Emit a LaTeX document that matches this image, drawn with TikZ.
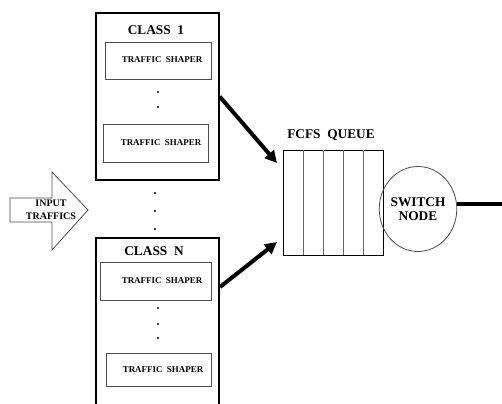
\documentclass[tikz,border=0pt]{standalone}
\usepackage{fontspec}
\setmainfont{Liberation Serif}
\usetikzlibrary{fit,shapes.geometric,arrows.meta}

\tikzset{every picture/.style={line width=0.75pt}}
\tikzset{
  classbox/.style={draw, line width=1pt, inner sep=0pt},
  shaperbox/.style={draw=black!70, line width=0.6pt, inner sep=0pt},
  title/.style={font=\fontsize{10}{10}\selectfont\bfseries, inner sep=0.75pt},
  shapertext/.style={font=\fontsize{6.7}{7}\selectfont\bfseries, inner sep=0.75pt},
  bigarrow/.style={line width=3pt, -{Triangle[length=9pt,width=9pt]}},
}

\begin{document}
\begin{tikzpicture}[x=0.75pt,y=0.75pt,yscale=-1]
\useasboundingbox (0,0) rectangle (502,403);
\clip (0,0) rectangle (502,403);

% input arrow
\draw [black!70, line width=0.6pt] (10,198) -- (52,198) -- (52,172) -- (88,210) -- (52,250) -- (52,222) -- (10,222) -- cycle ;
\node [font=\fontsize{7.5}{10}\selectfont\bfseries, align=center, inner sep=0pt] (input) at (51,210) {INPUT\\TRAFFICS};

% class 1
\node [classbox, fit={(96,13) (219,180)}] (class1) {};
\node [title] (class1lab) at (156,30) {CLASS\ \ 1};
\node [shaperbox, fit={(105,42) (211,79)}] (shaper11) {};
\node [shapertext] at (162,60) {TRAFFIC\ \ SHAPER};
\node [shaperbox, fit={(103,124) (208,162)}] (shaper12) {};
\node [shapertext] at (161,143) {TRAFFIC\ \ SHAPER};

% class N
\node [classbox, fit={(96,238) (219,430)}] (classN) {};
\node [title] (classNlab) at (154,251) {CLASS\ \ N};
\node [shaperbox, fit={(100,262) (211,300)}] (shaperN1) {};
\node [shapertext] at (162,281) {TRAFFIC\ \ SHAPER};
\node [shaperbox, fit={(106,353) (211,386)}] (shaperN2) {};
\node [shapertext] at (163,370) {TRAFFIC\ \ SHAPER};

% dots
\foreach \y in {92,107,308,324,338} \fill (158,\y) circle (0.8pt);
\foreach \y in {193,211,229} \fill (155,\y) circle (0.8pt);

% queue
\node [draw, line width=0.6pt, inner sep=0pt, fit={(283,150) (383,255)}] (queue) {};
\foreach \x in {303,323,343,363} \draw [black!60, line width=0.6pt] (\x,150) -- (\x,255);
\node [title] (queuelab) at (331,135) {FCFS\ \ QUEUE};

% switch node
\node [ellipse, draw=black!70, line width=0.6pt, minimum width=53.25pt, minimum height=63.75pt, inner sep=0pt, align=center, font=\fontsize{10}{11}\selectfont\bfseries] (switch) at (418,209) {SWITCH\\NODE};

% connectors
\coordinate (q1) at (277,163);
\coordinate (cN) at (220,287);
\coordinate (q2) at (277,242);
\coordinate (out) at (502,204);
\draw [bigarrow] (class1.east) -- (q1);
\draw [bigarrow] (cN) -- (q2);
\draw [line width=3pt] (switch.east |- out) -- (out);

\end{tikzpicture}
\end{document}
